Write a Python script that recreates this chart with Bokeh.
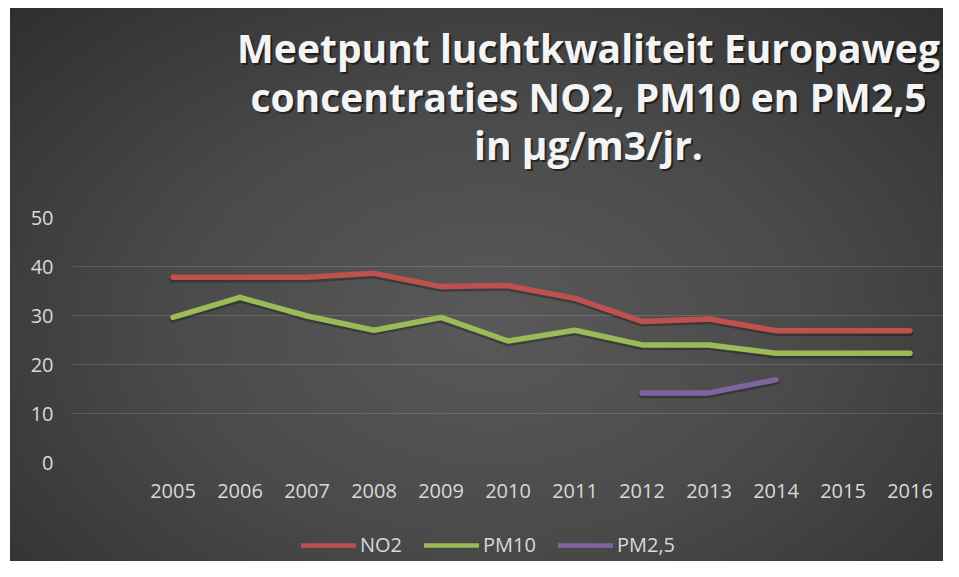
from bokeh.plotting import figure
from bokeh.layouts import column
from bokeh.models import Range1d, FixedTicker, Legend, LegendItem, Label
from bokeh.embed import file_html
from bokeh.resources import INLINE

# ---- data ----
years = [2005, 2006, 2007, 2008, 2009, 2010, 2011, 2012, 2013, 2014, 2015, 2016]
no2 = [37.8, 37.8, 37.8, 38.6, 35.9, 36.1, 33.5, 28.8, 29.3, 26.9, 26.9, 26.9]
pm10 = [29.6, 33.7, 29.9, 27.0, 29.6, 24.8, 27.0, 24.0, 24.0, 22.3, 22.3, 22.3]
pm25_years = [2012, 2013, 2014]
pm25 = [14.2, 14.2, 16.9]
y_ticks = [0, 10, 20, 30, 40, 50]
series_names = ["NO2", "PM10", "PM2,5"]
title_lines = ["Meetpunt luchtkwaliteit Europaweg",
               "concentraties NO2, PM10 en PM2,5",
               "in \u00b5g/m3/jr."]

colors = ["#C0504D", "#9BBB59", "#8064A2"]
FONT = "Open Sans"
LABEL_COLOR = "#d9d9d9"
W = 943


def bare_figure(height):
    f = figure(width=W, height=height, output_backend="svg", toolbar_location=None,
               x_axis_location=None, y_axis_location=None,
               x_range=Range1d(0, 1), y_range=Range1d(0, 1),
               min_border_left=0, min_border_right=0, min_border_top=0, min_border_bottom=0)
    f.border_fill_color = None
    f.background_fill_color = None
    f.outline_line_color = None
    f.xgrid.visible = False
    f.ygrid.visible = False
    return f


# ---- title strip (frame is aligned with the chart frame, starting at x=72) ----
tfig = bare_figure(202)
title_y = [155, 106, 58]
for txt, yb in zip(title_lines, title_y):
    tfig.add_layout(Label(x=516, y=yb, x_units="screen", y_units="screen", text=txt,
                          text_align="center", text_baseline="alphabetic",
                          text_font=FONT, text_font_style="bold", text_font_size="39px",
                          text_color="black", text_alpha=0.5, x_offset=2, y_offset=-2))
    tfig.add_layout(Label(x=516, y=yb, x_units="screen", y_units="screen", text=txt,
                          text_align="center", text_baseline="alphabetic",
                          text_font=FONT, text_font_style="bold", text_font_size="39px",
                          text_color="#f4f4f4"))

# ---- main chart ----
p = figure(width=W, height=308, output_backend="svg", toolbar_location=None,
           x_range=Range1d(years[0] - 1.5, years[-1] + 0.5),
           y_range=Range1d(y_ticks[0], y_ticks[-1]),
           min_border_left=72, min_border_right=0,
           min_border_top=15, min_border_bottom=48)
p.border_fill_color = None
p.background_fill_color = None
p.outline_line_color = None

p.xaxis.ticker = FixedTicker(ticks=years)
p.yaxis.ticker = FixedTicker(ticks=y_ticks)
for ax in (p.xaxis[0], p.yaxis[0]):
    ax.axis_line_color = None
    ax.major_tick_line_color = None
    ax.minor_tick_line_color = None
    ax.major_tick_in = 0
    ax.major_tick_out = 0
    ax.major_label_text_font = FONT
    ax.major_label_text_font_size = "20px"
    ax.major_label_text_color = LABEL_COLOR
p.xaxis.major_label_standoff = 21
p.yaxis.major_label_standoff = 19

p.xgrid.grid_line_color = None
p.ygrid.ticker = FixedTicker(ticks=y_ticks)
p.ygrid.grid_line_color = "white"
p.ygrid.grid_line_alpha = 0.14
p.ygrid.grid_line_width = 1

for xs, ys in ((years, no2), (years, pm10), (pm25_years, pm25)):
    p.line(xs, [v - 0.35 for v in ys], line_color="black", line_alpha=0.28,
           line_width=7, line_cap="round", line_join="round")

p.line(years, no2, line_color=colors[0], line_width=5.5, line_cap="round", line_join="round")
p.line(years, pm10, line_color=colors[1], line_width=5.5, line_cap="round", line_join="round")
p.line(pm25_years, pm25, line_color=colors[2], line_width=5.5, line_cap="round", line_join="round")

# ---- legend strip (series drawn out of its view range; only the legend shows) ----
lfig = bare_figure(51)
items = []
for name, col, xs, ys in zip(series_names, colors,
                             (years, years, pm25_years), (no2, pm10, pm25)):
    r = lfig.line(xs, ys, line_color=col, line_width=4.5, line_cap="round")
    items.append(LegendItem(label=name, renderers=[r]))
legend = Legend(items=items, orientation="horizontal", location=(229, 3),
                glyph_width=55, glyph_height=24, label_standoff=4, spacing=22,
                padding=0, margin=0, border_line_color=None,
                background_fill_alpha=0, label_height=24,
                label_text_font=FONT, label_text_font_size="20px",
                label_text_color=LABEL_COLOR)
lfig.add_layout(legend, "center")

layout = column(tfig, p, lfig, spacing=0)
layout.stylesheets = [
    ":host { background:"
    " linear-gradient(#ffffff, #ffffff) left top / 100% 8px no-repeat,"
    " linear-gradient(#ffffff, #ffffff) left top / 10px 100% no-repeat,"
    " radial-gradient(ellipse 75% 85% at 52% 58%, #595959 0%, #4a4a4a 45%, #2c2c2c 100%); }"
]

open("out.html", "w").write(file_html(layout, INLINE))
